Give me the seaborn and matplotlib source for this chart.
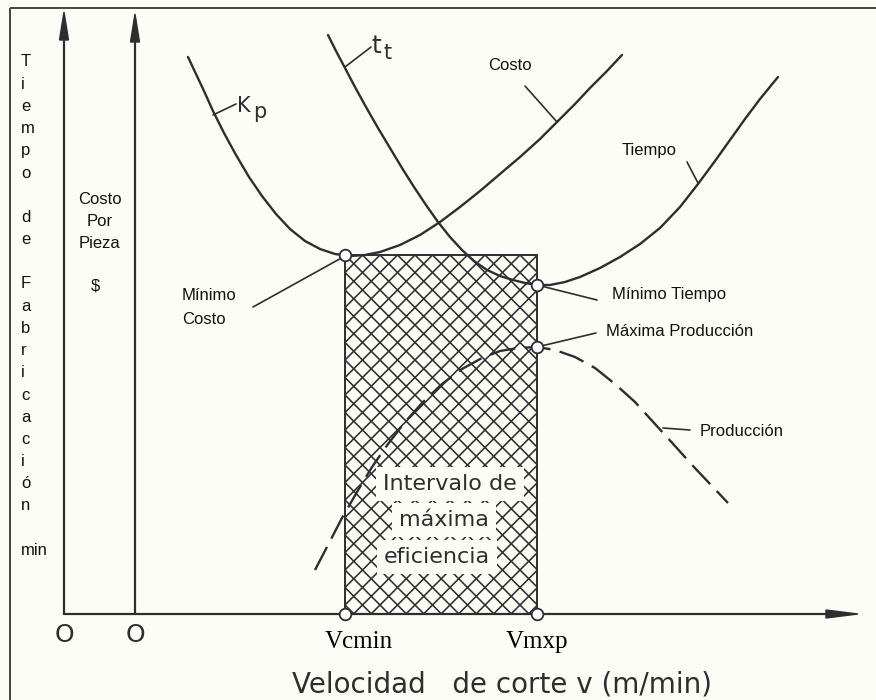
import numpy as np
import pandas as pd
import matplotlib
matplotlib.use("Agg")
import matplotlib.pyplot as plt
from matplotlib.patches import Rectangle, Polygon
import seaborn as sns

cost_x = [188, 196, 204, 213, 224, 236, 249, 262, 276, 290, 305, 320, 335, 350, 365, 380,
          400, 420, 440, 460, 480, 500, 520, 540, 557, 575, 590, 606, 622]
cost_y = [57, 74, 91, 111, 133, 155, 177, 196, 214, 229, 241, 249, 254, 256, 255, 252,
          245, 235, 222, 207, 191, 174, 157, 139, 122, 104, 88, 72, 55]

time_x = [328, 336, 345, 355, 366, 378, 390, 402, 414, 426, 438, 450, 462, 474, 487, 500,
          513, 525, 537, 550, 565, 580, 600, 620, 640, 660, 680, 698, 715, 730, 745, 760, 778]
time_y = [35, 51, 68, 87, 107, 128, 148, 168, 187, 205, 222, 237, 250, 261, 270, 276,
          280, 283, 285, 285, 282, 277, 268, 257, 244, 228, 207, 184, 161, 140, 119, 99, 77]

prod_x = [315, 328, 342, 357, 372, 388, 405, 423, 442, 462, 482, 500, 518, 537, 555, 575,
          595, 615, 635, 655, 675, 693, 711, 728]
prod_y = [570, 545, 518, 492, 467, 444, 422, 402, 384, 369, 358, 351, 348, 347, 350, 357,
          368, 384, 402, 424, 446, 466, 485, 503]

key_x = [345, 537, 537, 345, 537]            # Mínimo costo, Mínimo tiempo, Máx. producción, Vcmin, Vmxp
key_y = [255, 285, 347, 614, 614]

band_v = [345, 537]                           # Vcmin .. Vmxp
band_top = 255
axis_y = 614
axes_x = [64, 135]

tick_labels = ["Vcmin", "Vmxp"]
origin_labels = ["O", "O"]
side_letters = ["T", "i", "e", "m", "p", "o", "", "d", "e", "", "F", "a", "b", "r",
                "i", "c", "a", "c", "i", "ó", "n", "", "min"]
cost_axis_label = ["Costo", "Por", "Pieza"]
band_label = ["Intervalo de", "máxima", "eficiencia"]
x_title = "Velocidad   de corte v (m/min)"

# ---------------- figure -------------------------------------------------------------------------
sns.set_theme(style="white")
BG = "#fdfdf8"
INK = "#2e2e2e"

fig = plt.figure(figsize=(8.76, 7.0), dpi=100, facecolor=BG)
ax = fig.add_axes([0, 0, 1, 1])
ax.set_facecolor(BG)

# frame of the scan (top and left)
ax.plot([10, 876], [8, 8], color="#444444", lw=1.4, solid_capstyle="butt")
ax.plot([10, 10], [8, 700], color="#444444", lw=1.4, solid_capstyle="butt")

# hatched band (cross hatching clipped to the band)
band = Rectangle((band_v[0], band_top), band_v[1] - band_v[0], axis_y - band_top,
                 fill=False, edgecolor=INK, lw=1.4, zorder=3)
ax.add_patch(band)
step = 17.5
x0, x1 = band_v
for k in range(-40, 41):
    c1 = (band_top - x0) + k * step          # y = x + c1
    c2 = (band_top + x0) + k * step          # y = -x + c2
    for xs, ys in (([x0, x1], [x0 + c1, x1 + c1]), ([x0, x1], [-x0 + c2, -x1 + c2])):
        ln, = ax.plot(xs, ys, color=INK, lw=1.15, zorder=2)
        ln.set_clip_path(band)

# axes with arrows
ax.plot([axes_x[0], 830], [axis_y, axis_y], color=INK, lw=1.6, zorder=3)
ax.add_patch(Polygon([[826, axis_y - 4], [858, axis_y], [826, axis_y + 4]], closed=True,
                     color=INK, zorder=3))
for xa, tip in zip(axes_x, [12, 14]):
    ax.plot([xa, xa], [axis_y, tip + 20], color=INK, lw=1.6, zorder=3)
    ax.add_patch(Polygon([[xa - 4.5, tip + 28], [xa, tip], [xa + 4.5, tip + 28]], closed=True,
                         color=INK, zorder=3))

# curves
df_cost = pd.DataFrame({"v": cost_x, "y": cost_y})
df_time = pd.DataFrame({"v": time_x, "y": time_y})
df_prod = pd.DataFrame({"v": prod_x, "y": prod_y})
line_kw = dict(sort=False, color=INK, lw=1.7, ax=ax, zorder=4, solid_joinstyle="round")
sns.lineplot(data=df_cost, x="v", y="y", **line_kw)
sns.lineplot(data=df_time, x="v", y="y", **line_kw)
sns.lineplot(data=df_prod, x="v", y="y", sort=False, color=INK, lw=1.7, ax=ax, zorder=4,
             dashes=(11, 4))

# key points
df_key = pd.DataFrame({"v": key_x, "y": key_y})
sns.scatterplot(data=df_key, x="v", y="y", s=70, color="white", edgecolor=INK,
                linewidth=1.3, ax=ax, zorder=6)

# leader lines
leaders = [((213, 115), (236, 104)), ((345, 67), (371, 47)), ((525, 86), (557, 122)),
           ((687, 162), (698, 183)), ((253, 307), (345, 256)), ((537, 285), (597, 300)),
           ((537, 347), (596, 333)), ((663, 428), (690, 430))]
for (a0, b0), (a1, b1) in leaders:
    ax.plot([a0, a1], [b0, b1], color=INK, lw=1.2, zorder=4)

# curve names (hand lettering)
ax.text(237, 106, "K", fontsize=15, color=INK, ha="left", va="center", family="DejaVu Sans")
ax.text(253, 112, "p", fontsize=15, color=INK, ha="left", va="center", family="DejaVu Sans")
ax.text(371, 46, "t", fontsize=18, color=INK, ha="left", va="center", family="DejaVu Sans")
ax.text(384, 53, "t", fontsize=15, color=INK, ha="left", va="center", family="DejaVu Sans")

# typed labels
lab = dict(fontsize=12, color="#111111", family="Liberation Sans", va="center", zorder=7)
ax.text(488, 65, "Costo", ha="left", **lab)
ax.text(622, 151, "Tiempo", ha="left", **lab)
ax.text(182, 296, "Mínimo", ha="left", **lab)
ax.text(182, 319, "Costo", ha="left", **lab)
ax.text(612, 294, "Mínimo Tiempo", ha="left", **lab)
ax.text(606, 332, "Máxima Producción", ha="left", **lab)
ax.text(700, 431, "Producción", ha="left", **lab)

for i, s in enumerate(side_letters):
    if s:
        ax.text(21, 62 + 22.2 * i, s, ha="left", **lab)
for i, s in enumerate(cost_axis_label):
    ax.text(100, 199 + 22.5 * i, s, ha="center", **lab)
ax.text(95, 286, "$", ha="center", **lab)

# band label
for s, (tx, ty) in zip(band_label, [(450, 484), (444, 520), (437, 557)]):
    ax.text(tx, ty, s, fontsize=16, color=INK, ha="center", va="center",
            family="DejaVu Sans", zorder=5,
            bbox=dict(boxstyle="square,pad=0.32", facecolor=BG, edgecolor="none"))

# axis labels
for xo, s in zip(axes_x, origin_labels):
    ax.text(xo, 635, s, fontsize=18, color=INK, ha="center", va="center", family="DejaVu Sans")
for xv, s in zip(band_v, tick_labels):
    ax.text(xv + (14 if s == "Vcmin" else 0), 648, s, fontsize=18, color="#000000",
            ha="center", va="baseline", family="Liberation Serif")
ax.text(292, 693, x_title, fontsize=20, color=INK, ha="left", va="baseline",
        family="DejaVu Sans")

ax.set_xlim(0, 876)
ax.set_ylim(700, 0)
ax.axis("off")

fig.savefig("out.png", dpi=100, facecolor=BG)
